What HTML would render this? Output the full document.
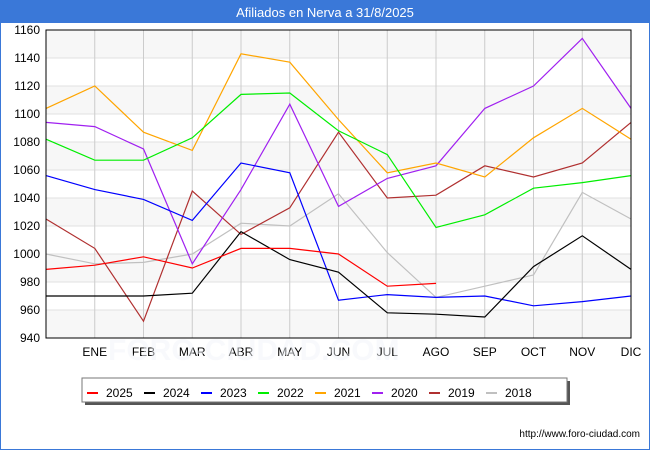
<!DOCTYPE html>
<html><head><meta charset="utf-8"><style>
html,body{margin:0;padding:0;background:#fff}
svg{display:block;font-family:"Liberation Sans",sans-serif}
</style></head><body>
<svg width="650" height="450" viewBox="0 0 650 450" xmlns="http://www.w3.org/2000/svg">
<rect x="0.5" y="0.5" width="649" height="449" fill="#fff" stroke="#3a78d8"/>
<rect x="0" y="0" width="650" height="23" fill="#3a78d8"/>
<text x="325" y="17" fill="#fff" font-size="13" text-anchor="middle">Afiliados en Nerva a 31/8/2025</text>
<g id="bands"></g>
<g id="grid"></g>
<g id="series"></g>
<rect x="46" y="30" width="585" height="308" fill="none" stroke="#000"/>
<g id="labels" font-size="12" fill="#000"></g>
<text x="108" y="360" font-size="30" fill="#f2f5fa" font-weight="bold" opacity="0.5">FORO-CIUDAD.COM</text>
<rect x="85" y="381" width="485" height="24" fill="#555"/>
<rect x="82" y="378" width="485" height="24" fill="#fff" stroke="#777"/>
<g id="legend" font-size="12"></g>
<text x="640" y="437" font-size="10" text-anchor="end" fill="#000">http://www.foro-ciudad.com</text>
<script>
(function(){
var ns="http://www.w3.org/2000/svg";
function el(p,t,a,txt){var e=document.createElementNS(ns,t);for(var k in a)e.setAttribute(k,a[k]);if(txt!=null)e.textContent=txt;document.getElementById(p).appendChild(e);}
function Y(v){return 338-(v-940)*1.4;}
function X(i){return 46+i*48.75;}
for(var v=940;v<1160;v+=20){var k=(v-940)/20;if(k%2==0)el("bands","rect",{x:46,y:Y(v+20),width:585,height:28,fill:"#f7f7f7"});}
for(var v=940;v<=1160;v+=20){el("grid","line",{x1:46,x2:631,y1:Y(v),y2:Y(v),stroke:"#e2e2e2"});el("labels","text",{x:40,y:Y(v)+4,"text-anchor":"end"},v);}
var m=["ENE","FEB","MAR","ABR","MAY","JUN","JUL","AGO","SEP","OCT","NOV","DIC"];
for(var i=1;i<=12;i++){el("grid","line",{x1:X(i),x2:X(i),y1:30,y2:338,stroke:"#cccccc"});el("labels","text",{x:X(i),y:356,"text-anchor":"middle"},m[i-1]);}
var S=[
["2018","#c0c0c0",[1000,993,994,1000,1022,1020,1043,1001,969,977,985,1044,1025]],
["2019","#b03030",[1025,1004,952,1045,1014,1033,1087,1040,1042,1063,1055,1065,1094]],
["2020","#a020f0",[1094,1091,1075,993,1046,1107,1034,1054,1063,1104,1120,1154,1104]],
["2021","#ffa500",[1104,1120,1087,1074,1143,1137,1096,1058,1065,1055,1083,1104,1082]],
["2022","#00ee00",[1082,1067,1067,1083,1114,1115,1088,1071,1019,1028,1047,1051,1056]],
["2023","#0000ff",[1056,1046,1039,1024,1065,1058,967,971,969,970,963,966,970]],
["2024","#000000",[970,970,970,972,1016,996,987,958,957,955,991,1013,989]],
["2025","#ff0000",[989,992,998,990,1004,1004,1000,977,979]]];
S.forEach(function(s){var p=s[2].map(function(v,i){return X(i).toFixed(1)+","+Y(v).toFixed(1);}).join(" ");el("series","polyline",{points:p,fill:"none",stroke:s[1],"stroke-width":1.2});});
var L=S.slice().reverse();
L.forEach(function(s,i){var x=87+i*57;el("legend","line",{x1:x,x2:x+11,y1:393,y2:393,stroke:s[1],"stroke-width":2});el("legend","text",{x:x+19,y:397},s[0]);});
})();
</script>
</svg>
</body></html>
